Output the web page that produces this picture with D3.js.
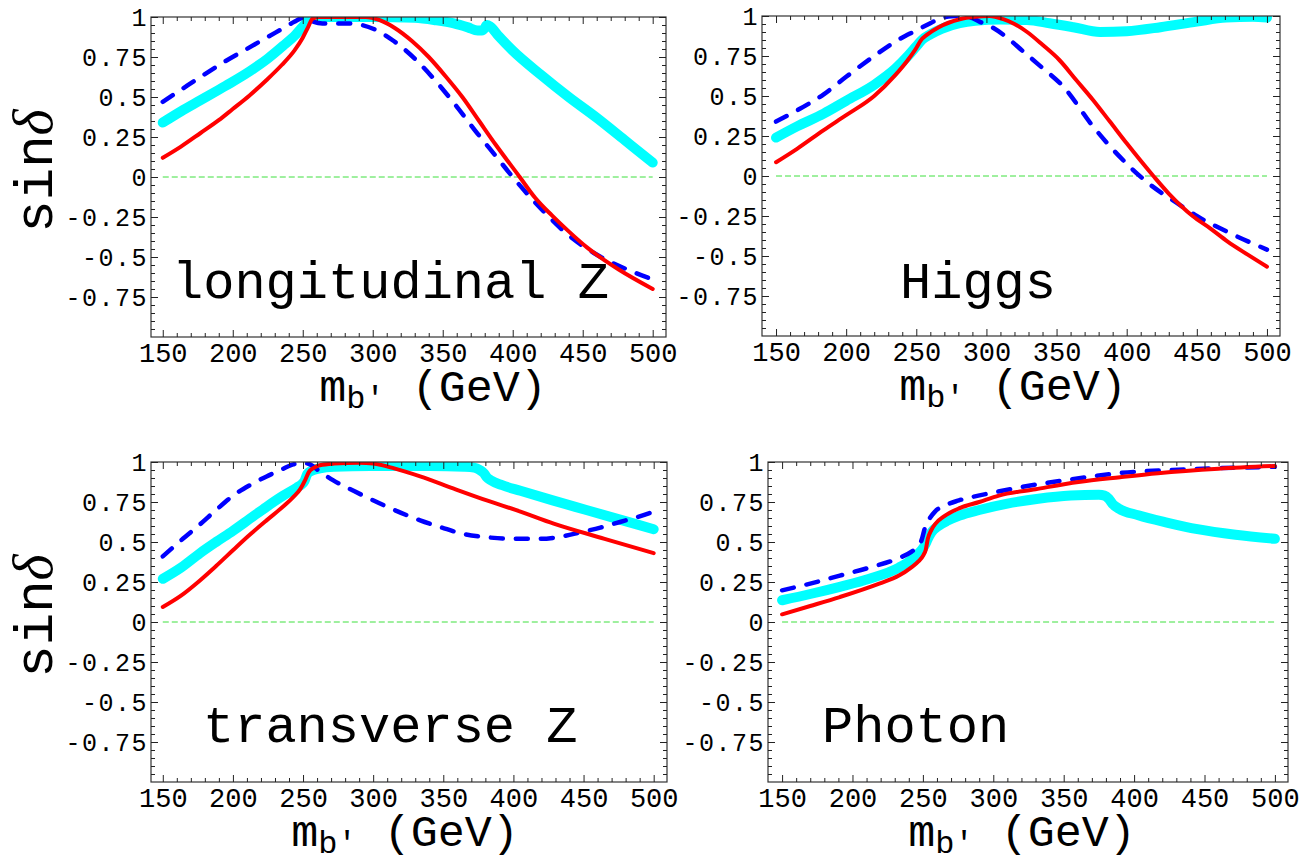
<!DOCTYPE html>
<html lang="en">
<head>
<meta charset="utf-8">
<title>sin delta vs m_b'</title>
<script src="https://cdn.jsdelivr.net/npm/d3@7"></script>
<style>
	body { margin: 0; background: #fff; }
	svg text { font-family: "Liberation Mono", "Courier New", monospace; fill: #000; }
</style>
</head>
<body>
<svg id="chart" width="1302" height="860"></svg>
<script>

// axis ticks
const massTicks = [150, 200, 250, 300, 350, 400, 450, 500];
const sinTicks = [-0.75, -0.5, -0.25, 0, 0.25, 0.5, 0.75, 1];
const sinTickLabels = ["-0.75", "-0.5", "-0.25", "0", "0.25", "0.5", "0.75", "1"];
const panelNames = ["longitudinal Z", "Higgs", "transverse Z", "Photon"];
const zeroLine = [[150, 0], [500, 0]];

// longitudinal Z  [m_b', sin delta]
const longZ_cyan = [[150,0.34],[163,0.41],[177,0.48],[195,0.57],[212,0.66],[225,0.74],[236,0.82],[245,0.89],[251,0.95],[255,0.99],[262,1.0],[300,1.0],[330,0.995],[345,0.98],[358,0.96],[368,0.935],[375,0.915],[378,0.915],[380,0.93],[381.5,0.95],[384,0.94],[390,0.88],[400,0.79],[420,0.64],[440,0.50],[460,0.37],[480,0.23],[500,0.09]];
const longZ_red = [[150,0.12],[163,0.19],[177,0.275],[190,0.355],[200,0.425],[212,0.51],[224,0.605],[235,0.70],[244,0.79],[250,0.87],[254,0.94],[257,0.99],[262,1.0],[295,1.0],[305,0.98],[316,0.93],[328,0.85],[340,0.75],[352,0.63],[364,0.50],[376,0.35],[388,0.20],[405,0.0],[416,-0.13],[428,-0.24],[440,-0.34],[453,-0.44],[476,-0.58],[500,-0.70]];
const longZ_blue = [[150,0.47],[163,0.545],[176,0.62],[194,0.72],[212,0.81],[225,0.875],[236,0.93],[244,0.97],[250,0.995],[254,0.99],[258,0.97],[264,0.96],[280,0.96],[292,0.95],[302,0.92],[315,0.85],[330,0.74],[345,0.60],[360,0.44],[375,0.27],[388,0.13],[400,0.0],[414,-0.14],[426,-0.25],[438,-0.35],[458,-0.475],[485,-0.59],[500,-0.64]];

// Higgs
const higgs_cyan = [[150,0.24],[165,0.31],[184,0.39],[200,0.47],[220,0.57],[235,0.67],[244,0.75],[250,0.81],[254,0.85],[260,0.885],[268,0.92],[281,0.955],[292,0.97],[310,0.978],[329,0.975],[345,0.955],[362,0.93],[381,0.90],[400,0.905],[424,0.93],[450,0.965],[471,0.99],[490,0.995],[500,0.99]];
const higgs_red = [[150,0.086],[165,0.17],[184,0.287],[200,0.38],[220,0.50],[235,0.63],[244,0.725],[250,0.80],[253,0.845],[258,0.885],[266,0.93],[281,0.98],[292,0.995],[302,1.0],[312,0.98],[320,0.95],[329,0.90],[340,0.82],[352,0.725],[364,0.60],[376,0.475],[388,0.34],[400,0.204],[419,0.0],[430,-0.11],[447,-0.25],[460,-0.33],[472,-0.41],[486,-0.49],[500,-0.567]];
const higgs_blue = [[150,0.34],[167,0.42],[184,0.51],[200,0.62],[220,0.75],[235,0.84],[250,0.91],[260,0.955],[267,0.985],[275,0.998],[282,1.0],[289,0.99],[295,0.965],[304,0.93],[314,0.87],[326,0.78],[338,0.69],[355,0.557],[376,0.31],[395,0.121],[414,-0.035],[436,-0.17],[450,-0.25],[472,-0.35],[500,-0.46]];

// transverse Z
const trans_cyan = [[150,0.27],[163,0.34],[176.5,0.43],[188,0.50],[200,0.57],[212,0.645],[224,0.72],[236,0.79],[245.5,0.84],[249,0.86],[251,0.88],[253,0.925],[256,0.945],[262,0.96],[272,0.97],[298,0.975],[340,0.975],[365,0.97],[372,0.965],[376,0.95],[379,0.93],[381,0.905],[384,0.885],[392,0.855],[405,0.82],[428,0.76],[452,0.70],[476,0.64],[500,0.58]];
const trans_red = [[150,0.094],[163,0.165],[176.5,0.26],[188,0.35],[200.2,0.45],[212,0.545],[224,0.635],[235,0.715],[243,0.78],[248,0.83],[251.4,0.885],[254,0.935],[258,0.965],[262,0.98],[272,0.99],[290,0.995],[300,0.99],[315,0.96],[333.5,0.91],[357,0.835],[381,0.76],[405,0.69],[428.7,0.615],[465,0.52],[500,0.43]];
const trans_blue = [[150,0.41],[163,0.51],[176.5,0.61],[188,0.70],[200.2,0.79],[212,0.855],[224,0.91],[234,0.95],[243,0.985],[250,0.995],[255,0.985],[262,0.94],[271.6,0.885],[286,0.82],[310,0.72],[333.5,0.635],[349,0.59],[364.4,0.55],[381,0.53],[397.7,0.52],[419,0.52],[435,0.535],[447.6,0.56],[462,0.59],[476,0.625],[488,0.655],[500,0.69]];

// Photon
const photon_cyan = [[150,0.136],[170,0.175],[191,0.22],[212,0.27],[233,0.34],[242,0.39],[247,0.43],[250,0.46],[252,0.49],[253.5,0.52],[256,0.56],[261,0.60],[268,0.635],[276,0.665],[290,0.70],[310,0.74],[332,0.77],[355,0.79],[375,0.795],[379,0.79],[382,0.77],[385,0.735],[389,0.71],[403,0.667],[424,0.62],[445,0.58],[472,0.545],[500,0.52]];
const photon_red = [[150,0.048],[170,0.10],[191,0.156],[219,0.24],[233,0.29],[241.6,0.34],[247,0.38],[250.5,0.42],[252,0.45],[253.5,0.52],[256,0.575],[259,0.615],[265,0.66],[275.6,0.71],[290,0.75],[304,0.79],[330,0.83],[360.5,0.875],[390,0.905],[417,0.93],[460,0.958],[500,0.975]];
const photon_blue = [[150,0.198],[170,0.24],[191,0.29],[212,0.34],[233,0.40],[242,0.44],[246,0.47],[249,0.51],[251.5,0.59],[255,0.65],[258.6,0.69],[266,0.73],[275.6,0.76],[295,0.80],[318,0.84],[350,0.885],[388.7,0.93],[440,0.955],[500,0.97]];

// where each panel sits on the page
const panels = [
	{ name: panelNames[0], cyan: longZ_cyan, red: longZ_red, blue: longZ_blue,
	  left: 151, right: 666, top: 17, bottom: 337, xDomain: [141.6, 509.5],
	  titleX: 172, titleY: 298, xTitleX: 433, yTitle: true },
	{ name: panelNames[1], cyan: higgs_cyan, red: higgs_red, blue: higgs_blue,
	  left: 762, right: 1280, top: 16, bottom: 336, xDomain: [140, 509.3],
	  titleX: 900, titleY: 298, xTitleX: 1013, yTitle: false },
	{ name: panelNames[2], cyan: trans_cyan, red: trans_red, blue: trans_blue,
	  left: 151, right: 667, top: 462, bottom: 782, xDomain: [141.6, 509.5],
	  titleX: 203, titleY: 742, xTitleX: 405, yTitle: true },
	{ name: panelNames[3], cyan: photon_cyan, red: photon_red, blue: photon_blue,
	  left: 768, right: 1288, top: 462, bottom: 782, xDomain: [140, 509.3],
	  titleX: 822, titleY: 742, xTitleX: 1022, yTitle: false }
];

const svg = d3.select("#chart");

// minor tick positions
const massMinor = d3.range(150, 510, 10).filter(d => d % 50 !== 0);
const sinMinor = d3.range(-95, 100, 5).map(d => d / 100).filter(d => Math.round(d * 100) % 25 !== 0);

function styleAxis(g) {
	g.select(".domain").remove();
	g.selectAll(".tick line").attr("stroke", "#222").attr("stroke-width", 1);
}

panels.forEach((p, i) => {

	const x = d3.scaleLinear().domain(p.xDomain).range([p.left, p.right]);
	const y = d3.scaleLinear().domain([-1, 1]).range([p.bottom, p.top]);

	const g = svg.append("g");

	// clip the curves to the frame
	g.append("clipPath").attr("id", "clip" + i)
		.append("rect")
		.attr("x", p.left).attr("y", p.top)
		.attr("width", p.right - p.left).attr("height", p.bottom - p.top);

	const line = d3.line()
		.x(d => x(d[0]))
		.y(d => y(d[1]))
		.curve(d3.curveMonotoneX);

	const plot = g.append("g").attr("clip-path", "url(#clip" + i + ")");

	// dashed zero line
	plot.append("path")
		.datum(zeroLine)
		.attr("d", line)
		.attr("fill", "none")
		.attr("stroke", "#3ee03e")
		.attr("stroke-width", 1)
		.attr("stroke-dasharray", "6,3");

	plot.append("path")
		.datum(p.cyan)
		.attr("d", line)
		.attr("fill", "none")
		.attr("stroke", "#00ffff")
		.attr("stroke-width", 10)
		.attr("stroke-linecap", "round")
		.attr("stroke-linejoin", "round");

	plot.append("path")
		.datum(p.blue)
		.attr("d", line)
		.attr("fill", "none")
		.attr("stroke", "#0000ff")
		.attr("stroke-width", 4.5)
		.attr("stroke-linecap", "round")
		.attr("stroke-dasharray", "12,13");

	plot.append("path")
		.datum(p.red)
		.attr("d", line)
		.attr("fill", "none")
		.attr("stroke", "#ff0000")
		.attr("stroke-width", 4)
		.attr("stroke-linecap", "round")
		.attr("stroke-linejoin", "round");

	// frame
	g.append("rect")
		.attr("x", p.left).attr("y", p.top)
		.attr("width", p.right - p.left).attr("height", p.bottom - p.top)
		.attr("fill", "none")
		.attr("stroke", "#333")
		.attr("stroke-width", 1.2);

	// bottom axis with labels
	const xb = g.append("g")
		.attr("transform", "translate(0," + p.bottom + ")")
		.call(d3.axisBottom(x).tickValues(massTicks).tickSize(-7).tickPadding(6).tickFormat(d3.format("d")));
	styleAxis(xb);
	xb.selectAll("text")
		.attr("font-family", "Liberation Mono")
		.attr("font-size", 27)
		.attr("fill", "#000");

	g.append("g")
		.attr("transform", "translate(0," + p.bottom + ")")
		.call(d3.axisBottom(x).tickValues(massMinor).tickSize(-4).tickFormat(""))
		.call(styleAxis);

	// top axis, ticks only
	g.append("g")
		.attr("transform", "translate(0," + p.top + ")")
		.call(d3.axisTop(x).tickValues(massTicks).tickSize(-7).tickFormat(""))
		.call(styleAxis);
	g.append("g")
		.attr("transform", "translate(0," + p.top + ")")
		.call(d3.axisTop(x).tickValues(massMinor).tickSize(-4).tickFormat(""))
		.call(styleAxis);

	// left axis with labels
	const yl = g.append("g")
		.attr("transform", "translate(" + p.left + ",0)")
		.call(d3.axisLeft(y).tickValues(sinTicks).tickSize(-7).tickPadding(3)
			.tickFormat((d, k) => sinTickLabels[k]));
	styleAxis(yl);
	yl.selectAll("text")
		.attr("font-family", "Liberation Mono")
		.attr("font-size", 25)
		.attr("letter-spacing", 1.5)
		.attr("fill", "#000");

	g.append("g")
		.attr("transform", "translate(" + p.left + ",0)")
		.call(d3.axisLeft(y).tickValues(sinMinor).tickSize(-4).tickFormat(""))
		.call(styleAxis);

	// right axis, ticks only
	g.append("g")
		.attr("transform", "translate(" + p.right + ",0)")
		.call(d3.axisRight(y).tickValues(sinTicks).tickSize(-7).tickFormat(""))
		.call(styleAxis);
	g.append("g")
		.attr("transform", "translate(" + p.right + ",0)")
		.call(d3.axisRight(y).tickValues(sinMinor).tickSize(-4).tickFormat(""))
		.call(styleAxis);

	// panel title
	g.append("text")
		.attr("x", p.titleX)
		.attr("y", p.titleY)
		.attr("font-size", 52)
		.text(p.name);

	// x axis title  m_b' (GeV)
	const xt = g.append("text")
		.attr("x", p.xTitleX)
		.attr("y", p.bottom + 64)
		.attr("text-anchor", "middle")
		.attr("font-size", 45);
	xt.append("tspan").text("m");
	xt.append("tspan").attr("font-size", 32).attr("dy", 7).text("b\u2032");
	xt.append("tspan").attr("dy", -7).text(" (GeV)");

	// y axis title  sin delta
	if (p.yTitle) {
		const yt = g.append("text")
			.attr("transform", "translate(52," + ((p.top + p.bottom) / 2 - 6) + ") rotate(-90)")
			.attr("text-anchor", "middle")
			.attr("font-size", 54);
		yt.append("tspan").text("sin");
		yt.append("tspan")
			.attr("font-family", "Liberation Serif")
			.attr("font-style", "italic")
			.attr("font-size", 56)
			.text("\u03b4");
	}
});

</script>
</body>
</html>
